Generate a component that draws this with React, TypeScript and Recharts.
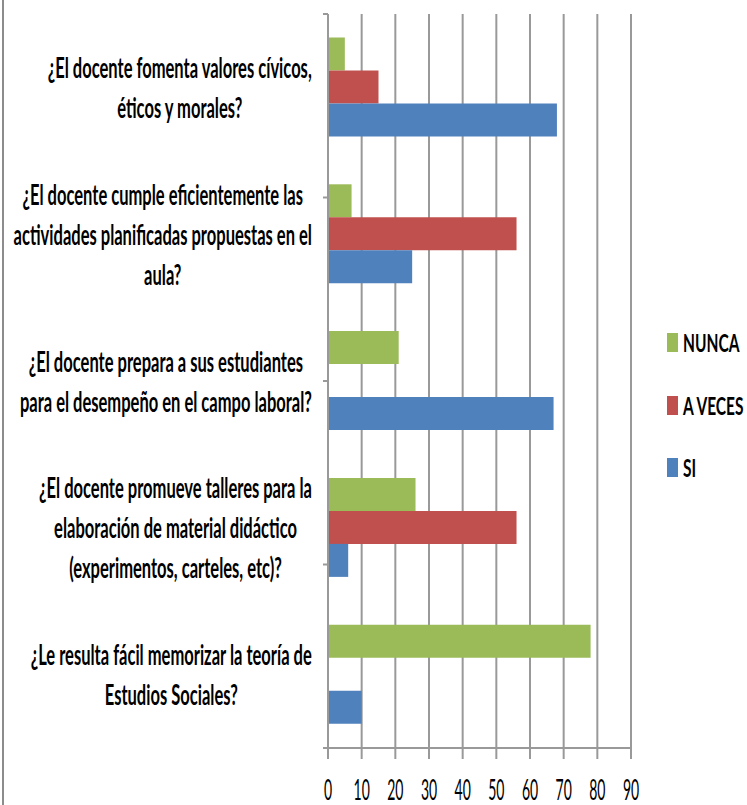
import React from "react";
import { BarChart, Bar, XAxis, YAxis, CartesianGrid, Legend } from "recharts";

const categories = [
  "¿El docente fomenta valores cívicos,\néticos y morales?",
  "¿El docente cumple eficientemente las\nactividades planificadas propuestas en el\naula?",
  "¿El docente prepara a sus estudiantes\npara el desempeño en el campo laboral?",
  "¿El docente promueve talleres para la\nelaboración de material didáctico\n(experimentos, carteles, etc)?",
  "¿Le resulta fácil memorizar la teoría de\nEstudios Sociales?",
];
const nunca = [5, 7, 21, 26, 78];
const aVeces = [15, 56, null, 56, null];
const si = [68, 25, 67, 6, 10];
const xTicks = [0, 10, 20, 30, 40, 50, 60, 70, 80, 90];
const boundaryTicks = [0, 1, 2, 3, 4, 5];

const seriesNames = ["NUNCA", "A VECES", "SI"];
const seriesColors = ["#9BBB59", "#C0504D", "#4F81BD"];

const data = categories.map((c, i) => ({ cat: c, nunca: nunca[i], aVeces: aVeces[i], si: si[i] }));

const SX = 0.57;
const LABEL_FONT = "bold 29px Lato";
let ctx: CanvasRenderingContext2D | null = null;
function measure(s: string) {
  if (!ctx) {
    const c = document.createElement("canvas");
    ctx = c.getContext("2d");
  }
  if (!ctx) return s.length * 15;
  ctx.font = LABEL_FONT;
  return ctx.measureText(s).width;
}

const CatTick = (props: any) => {
  const { x, y, payload } = props;
  const lines = String(payload.value).split("\n");
  const widths = lines.map((l) => measure(l) * SX);
  const block = Math.max(...widths);
  const right = x;
  const cx = right - block / 2;
  const lh = 40;
  const first = y - ((lines.length - 1) * lh) / 2 + 10.5;
  return (
    <g>
      {lines.map((l, i) => (
        <text
          key={i}
          transform={`translate(${cx},${first + i * lh}) scale(${SX},1)`}
          textAnchor="middle"
          fontFamily="Lato"
          fontWeight={700}
          fontSize={29}
          fill="#000"
        >
          {l}
        </text>
      ))}
    </g>
  );
};

const XTick = (props: any) => {
  const { x, y, payload } = props;
  return (
    <text
      transform={`translate(${x},${y + 39}) scale(0.5,1)`}
      textAnchor="middle"
      fontFamily="Lato"
      fontSize={28}
      fill="#000"
    >
      {payload.value}
    </text>
  );
};

const LegendContent = () => {
  return (
    <div>
      {seriesNames.map((name, i) => (
        <div key={name} style={{ position: "relative", height: 62.5 }}>
          <div
            style={{
              position: "absolute",
              left: 0,
              top: 22,
              width: 11,
              height: 19,
              background: seriesColors[i],
            }}
          />
          <div
            style={{
              position: "absolute",
              left: 16,
              top: 14,
              lineHeight: "34px",
              fontFamily: "Lato",
              fontWeight: 700,
              fontSize: 25,
              transform: "scaleX(0.62)",
              transformOrigin: "left center",
              whiteSpace: "nowrap",
              color: "#000",
            }}
          >
            {name}
          </div>
        </div>
      ))}
    </div>
  );
};

export default function App() {
  return (
    <div style={{ position: "absolute", left: 0, top: 0, width: 747, height: 805, background: "#fff" }}>
      <div style={{ position: "absolute", left: 2, top: 0, width: 0, height: 805, borderLeft: "2px solid #8c8c8c" }} />
      <BarChart
        width={747}
        height={805}
        data={data}
        layout="vertical"
        margin={{ top: 14, right: 36, bottom: 0, left: 0 }}
        barCategoryGap="16%"
        barGap={0}
      >
        <CartesianGrid horizontal={false} stroke="#999" strokeWidth={2} />
        <XAxis
          type="number"
          domain={[0, 90]}
          ticks={xTicks}
          interval={0}
          height={57}
          tickSize={11}
          tickMargin={2}
          stroke="#999"
          strokeWidth={2}
          tick={<XTick />}
        />
        <YAxis
          yAxisId="bound"
          type="number"
          domain={[0, 5]}
          ticks={boundaryTicks}
          width={1}
          tickSize={5}
          tickFormatter={() => ""}
          stroke="#999"
          strokeWidth={2}
        />
        <YAxis
          yAxisId="cat"
          type="category"
          dataKey="cat"
          width={327}
          axisLine={false}
          tickLine={false}
          tickSize={0}
          tickMargin={15}
          interval={0}
          tick={<CatTick />}
        />
        <Legend
          layout="vertical"
          align="right"
          verticalAlign="middle"
          content={<LegendContent />}
          wrapperStyle={{ left: 667, top: 311, width: 80, right: "auto" }}
        />
        <Bar yAxisId="cat" dataKey="nunca" name={seriesNames[0]} fill={seriesColors[0]} isAnimationActive={false} />
        <Bar yAxisId="cat" dataKey="aVeces" name={seriesNames[1]} fill={seriesColors[1]} isAnimationActive={false} />
        <Bar yAxisId="cat" dataKey="si" name={seriesNames[2]} fill={seriesColors[2]} isAnimationActive={false} />
      </BarChart>
    </div>
  );
}
